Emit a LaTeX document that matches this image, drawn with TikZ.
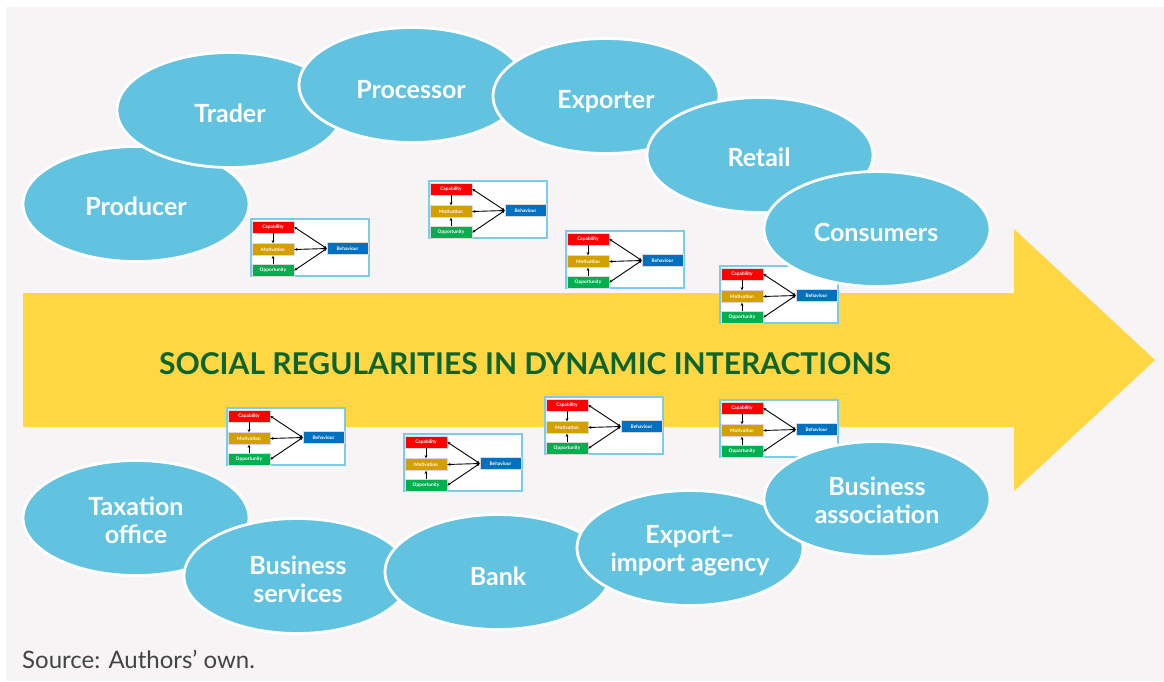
\documentclass[tikz,border=0pt]{standalone}
\usepackage{fontspec}
\setmainfont{Lato}
\setsansfont{Lato}
\usetikzlibrary{shapes.geometric,arrows.meta}
\definecolor{bggray}{HTML}{F6F4F5}
\definecolor{arrowyellow}{HTML}{FFD743}
\definecolor{ellblue}{HTML}{62C3E1}
\definecolor{titlegreen}{HTML}{0B642C}
\definecolor{srcgray}{HTML}{444444}
\definecolor{framecol}{HTML}{7CCBEA}
\definecolor{cbred}{HTML}{FF0000}
\definecolor{cbmust}{HTML}{D4A000}
\definecolor{cbgreen}{HTML}{00B050}
\definecolor{cbblue}{HTML}{0070C0}
\tikzset{
  actor/.style={ellipse, fill=ellblue, draw=white, line width=2.8pt,
    minimum width=226pt, minimum height=115pt, inner sep=0pt},
  actortext/.style={anchor=base, inner sep=0pt, text=white,
    font=\fontsize{25}{28}\selectfont\bfseries},
  comframe/.style={draw=framecol, line width=1.5pt, fill=white,
    minimum width=118pt, minimum height=57pt, inner sep=0pt, outer sep=0pt},
  cbox/.style={minimum width=42pt, minimum height=12pt, inner sep=0pt,
    draw=black!15, line width=0.4pt, text=white,
    font=\fontsize{4.8}{5}\selectfont\bfseries},
  cbarr/.style={line width=0.9pt, -{Stealth[length=3.2pt,width=2.8pt]}},
  cbdbl/.style={line width=0.9pt, {Stealth[length=3.2pt,width=2.8pt]}-{Stealth[length=3.2pt,width=2.8pt]}},
}
\newcommand\comb[3]{%
  \begin{scope}[shift={(#2,#3)}]
    \node[comframe, anchor=north west] (#1f) at (0,0) {};
    \node[cbox, fill=cbred] (#1c) at (22,8) {Capability};
    \node[cbox, fill=cbmust] (#1m) at (22,30.5) {Motivation};
    \node[cbox, fill=cbgreen] (#1o) at (22,51.5) {Opportunity};
    \node[cbox, fill=cbblue, minimum width=41pt] (#1b) at (96.5,29.5) {Behaviour};
    \draw[cbarr] (#1c) -- (#1m);
    \draw[cbarr] (#1o) -- (#1m);
    \draw[cbdbl] (#1c.east) -- (#1b.west);
    \draw[cbdbl] (#1m.east) -- (#1b.west);
    \draw[cbdbl] (#1o.east) -- (#1b.west);
  \end{scope}}
\newcommand\twolines[2]{\def\arraystretch{1}\begin{tabular}[t]{@{}c@{}}#1\\#2\end{tabular}}
\begin{document}
\begin{tikzpicture}[x=1pt,y=-1pt]
\useasboundingbox (0,0) rectangle (1164,681);
\fill[white] (0,0) rectangle (1164,681);
\fill[bggray] (6,7) rectangle (1164,681);
% big arrow
\fill[arrowyellow] (23,293) -- (1014,293) -- (1014,229) -- (1155,360)
  -- (1014,491) -- (1014,427) -- (23,427) -- cycle;
\node[anchor=base, inner sep=0pt, text=titlegreen, font=\fontsize{30}{32}\selectfont\bfseries] (title) at (525,374)
  {SOCIAL REGULARITIES IN DYNAMIC INTERACTIONS};
% COM-B boxes
\comb{ba}{251}{219}
\comb{bb}{429}{181}
\comb{bc}{566}{231}
\comb{bd}{720}{266}
\comb{be}{227}{408}
\comb{bf}{404}{434}
\comb{bg}{545}{397}
\comb{bh}{720}{400}
% top actors
\node[actor] (producer) at (136,204) {};
\node[actortext] (producer-t) at (136,215) {Producer};
\node[actor] (trader) at (230,110) {};
\node[actortext] (trader-t) at (230,122) {Trader};
\node[actor] (processor) at (412,85) {};
\node[actortext] (processor-t) at (411,98.5) {Processor};
\node[actor] (exporter) at (606,96) {};
\node[actortext] (exporter-t) at (606,108.3) {Exporter};
\node[actor] (retail) at (760,155) {};
\node[actortext] (retail-t) at (759,166.7) {Retail};
\node[actor] (consumers) at (877,229) {};
\node[actortext] (consumers-t) at (876,241.7) {Consumers};
% bottom actors
\node[actor] (tax) at (136,518) {};
\node[actortext] (tax-t) at (136,515.7) {\twolines{Taxation}{office}};
\node[actor] (bserv) at (297,576) {};
\node[actortext] (bserv-t) at (298,574) {\twolines{Business}{services}};
\node[actor] (bank) at (498,572) {};
\node[actortext] (bank-t) at (498,585.7) {Bank};
\node[actor] (expimp) at (690,548) {};
\node[actortext] (expimp-t) at (690,543.5) {\twolines{Export–}{import agency}};
\node[actor] (bassoc) at (877,499) {};
\node[actortext] (bassoc-t) at (877,495) {\twolines{Business}{association}};
% source
\node[anchor=base west, inner sep=0pt, text=srcgray, font=\fontsize{24}{28}\selectfont] (source) at (22,668)
  {Source: Authors’ own.};
\end{tikzpicture}
\end{document}
